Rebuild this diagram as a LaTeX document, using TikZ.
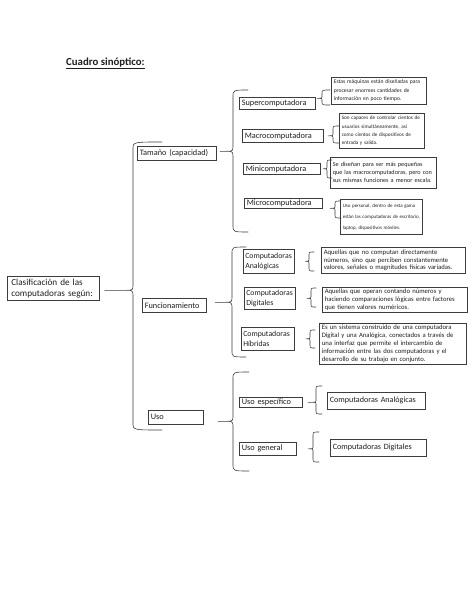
\documentclass[tikz,border=0pt]{standalone}
\usepackage{fontspec}
\setmainfont{Carlito}
\usepackage{xcolor}
\usepackage{tikz}
\usetikzlibrary{calc}

\definecolor{linea}{HTML}{3C3C3C}
\definecolor{letra}{HTML}{1E1E1E}

\tikzset{
  caja/.style={draw=linea, line width=0.6pt, anchor=north west, inner xsep=2.5pt, inner ysep=1pt, align=left, text=letra},
  rama/.style={caja, font=\fontsize{8.3}{10}\selectfont},
  nota/.style={caja, font=\fontsize{6.7}{7.8}\selectfont},
  trazo/.style={draw=linea, line width=0.6pt, line join=round, line cap=round}
}

% llave: nodo, corrimiento de la punta, x, arriba, abajo, brazo, radio
\newcommand{\llave}[7]{%
  \draw[trazo] let \p1 = ($(#1.east)+(#2)$), \p2 = (#3,#4), \p3 = (#3,#5) in
    (\x1,\y1) -- (\x2-#7,\y1) .. controls (\x2,\y1) .. (\x2,\y1+#7)
    -- (\x2,\y2-#7) .. controls (\x2,\y2) .. (\x2+#6,\y2)
    (\x2-#7,\y1) .. controls (\x2,\y1) .. (\x2,\y1-#7)
    -- (\x2,\y3+#7) .. controls (\x2,\y3) .. (\x2+#6,\y3);
}

\begin{document}
\begin{tikzpicture}[x=1pt, y=-1pt]
  \useasboundingbox (0,0) rectangle (474,613);

  \node[anchor=base west, inner sep=0pt, text=letra, font=\fontsize{10.8}{13}\selectfont\bfseries] (titulo) at (66,65) {\underline{Cuadro sinóptico:}};

  \node[caja, inner xsep=4pt, text width=84pt, minimum height=24pt, font=\fontsize{9.2}{11}\selectfont] (clasif) at (7,276) {Clasificación de las\\computadoras según:};

  \node[rama, text width=74.4pt, minimum height=14pt] (tamano) at (137,146) {Tamaño (capacidad)};
  \node[rama, text width=59.4pt, minimum height=14pt] (funcion) at (142,298) {Funcionamiento};
  \node[rama, text width=50.4pt, minimum height=14pt] (uso) at (148,410) {Uso};

  \node[rama, text width=71.4pt, minimum height=12pt] (super) at (239,97) {Supercomputadora};
  \node[rama, text width=76.4pt, minimum height=13pt] (macro) at (242,129) {Macrocomputadora};
  \node[rama, text width=72.4pt, minimum height=11pt] (mini) at (243,163) {Minicomputadora};
  \node[rama, text width=73.4pt, minimum height=10pt] (micro) at (244,198) {Microcomputadora};

  \node[caja, text width=90.4pt, minimum height=27pt, font=\fontsize{5.6}{8.4}\selectfont] (nsuper) at (331,77) {Estas máquinas están diseñadas para\\procesar enormes cantidades de\\información en poco tiempo.};
  \node[caja, text width=80.4pt, minimum height=35pt, font=\fontsize{5.2}{8.3}\selectfont] (nmacro) at (339,113) {Son capaces de controlar cientos de\\usuarios simultáneamente, así\\como cientos de dispositivos de\\entrada y salida.};
  \node[caja, text width=101.4pt, minimum height=31pt, font=\fontsize{6.2}{8}\selectfont] (nmini) at (330,157) {Se diseñan para ser más pequeñas\\que las macrocomputadoras, pero con\\sus mismas funciones a menor escala.};
  \node[caja, text width=77.4pt, minimum height=35pt, font=\fontsize{4.95}{11}\selectfont] (nmicro) at (340,199) {Uso personal, dentro de esta gama\\están las computadoras de escritorio,\\laptop, dispositivos móviles.};

  \node[caja, inner xsep=2pt, text width=47.4pt, minimum height=24pt, font=\fontsize{7.8}{10}\selectfont] (analog) at (243,249) {Computadoras\\Analógicas};
  \node[caja, inner xsep=2pt, text width=47.4pt, minimum height=22pt, font=\fontsize{7.8}{10}\selectfont] (digit) at (244,287) {Computadoras\\Digitales};
  \node[caja, inner xsep=2pt, text width=49.4pt, minimum height=23pt, font=\fontsize{7.8}{10}\selectfont] (hibrid) at (241,327) {Computadoras\\Híbridas};

  \node[nota, text width=139.4pt, minimum height=26pt] (nanalog) at (321,247) {Aquellas que no computan directamente\\números, sino que perciben constantemente\\valores, señales o magnitudes físicas variadas.};
  \node[nota, text width=140.4pt, minimum height=25pt] (ndigit) at (322,287) {Aquellas que operan contando números y\\haciendo comparaciones lógicas entre factores\\que tienen valores numéricos.};
  \node[nota, text width=142.4pt, minimum height=41pt] (nhibrid) at (319,323) {Es un sistema construido de una computadora\\Digital y una Analógica, conectados a través de\\una interfaz que permite el intercambio de\\información entre las dos computadoras y el\\desarrollo de su trabajo en conjunto.};

  \node[rama, text width=58.4pt, minimum height=10pt] (usoesp) at (239,397) {Uso específico};
  \node[rama, text width=52.4pt, minimum height=13pt] (usogen) at (239,442) {Uso general};
  \node[rama, text width=93.4pt, minimum height=17pt, font=\fontsize{8.1}{10}\selectfont] (compana) at (327,392) {Computadoras Analógicas};
  \node[rama, text width=91.4pt, minimum height=17pt, font=\fontsize{8.1}{10}\selectfont] (compdig) at (330,439) {Computadoras Digitales};

  \llave{clasif}{5,2}{133}{142}{430}{29pt}{7pt}
  \llave{tamano}{3,-2}{233}{90}{232}{15pt}{7pt}
  \llave{funcion}{8,-3}{232}{247}{357}{14pt}{7pt}
  \llave{uso}{14,4}{233}{372}{471}{16pt}{7pt}

  \llave{super}{1,-5}{322}{90}{105}{8pt}{3.5pt}
  \llave{macro}{4,0}{333}{126}{143}{6pt}{3.5pt}
  \llave{mini}{2,0}{327}{160}{178}{5pt}{3.5pt}
  \llave{micro}{7,5}{335}{201}{218}{6pt}{3.5pt}
  \llave{analog}{10.5,0}{309}{252}{271}{5pt}{3.5pt}
  \llave{digit}{11,0}{311}{288}{307}{5pt}{3.5pt}
  \llave{hibrid}{11,0}{310}{330}{348}{5pt}{3.5pt}
  \llave{usoesp}{5,0}{316}{386}{414}{6pt}{3.5pt}
  \llave{usogen}{11,0}{313}{432}{462}{6pt}{3.5pt}
\end{tikzpicture}
\end{document}
